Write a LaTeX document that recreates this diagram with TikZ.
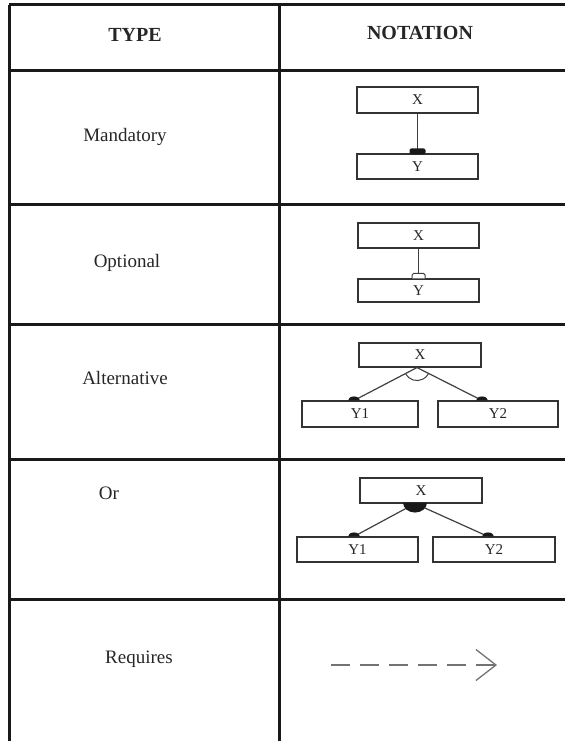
\documentclass[tikz,border=0pt]{standalone}
\usepackage{fontspec}
\setmainfont{Liberation Serif}
\usetikzlibrary{arrows.meta,calc}
\tikzset{
  grid/.style={line width=3pt, draw=black!90},
  head/.style={font=\fontsize{20}{22}\selectfont\bfseries, text=black!85},
  typelbl/.style={font=\fontsize{19}{21}\selectfont, text=black!85},
  fbox/.style={draw=black!80, line width=1.1pt, rectangle, inner sep=0pt,
    font=\fontsize{15}{17}\selectfont, text=black!85},
  link/.style={draw=black!75, line width=1.2pt},
  blob/.style={fill=black!90},
}
\begin{document}
\begin{tikzpicture}[x=1pt,y=1pt]
\useasboundingbox (0,0) rectangle (565,-741);
% table grid
\coordinate (tl) at (9,-5);
\coordinate (tm) at (279,-5);
\coordinate (bl) at (9,-741);
\coordinate (bm) at (279,-741);
\draw[grid] (tl) -- (bl);
\draw[grid] (tm) -- (bm);
\foreach \yy in {5,71,204,324,459,599}{
  \draw[grid] (9,-\yy) -- (565,-\yy);
}
% headers
\node[head] (hType) at (135,-35) {TYPE};
\node[head] (hNot) at (420,-33) {NOTATION};
% type labels
\node[typelbl] (tMand) at (125,-137) {Mandatory};
\node[typelbl] (tOpt) at (127,-263) {Optional};
\node[typelbl] (tAlt) at (125,-378) {Alternative};
\node[typelbl] (tOr) at (109,-493) {Or};
\node[typelbl] (tReq) at (139,-659) {Requires};
% Mandatory
\node[fbox, minimum width=121pt, minimum height=26pt] (mX) at (417.5,-100) {X};
\node[fbox, minimum width=121pt, minimum height=25pt] (mY) at (417.5,-166.5) {Y};
\draw[link] (mX.south) -- (mY.north);
\fill[blob, rounded corners=2pt] ($(mY.north)+(-8,-1)$) rectangle ($(mY.north)+(8,5)$);
% Optional
\node[fbox, minimum width=121pt, minimum height=25pt] (oX) at (418.5,-235.5) {X};
\node[fbox, minimum width=121pt, minimum height=23pt] (oY) at (418.5,-290.5) {Y};
\draw[link] (oX.south) -- (oY.north);
\draw[fill=white, draw=black!75, line width=1pt, rounded corners=1.5pt]
  ($(oY.north)+(-6.5,0)$) -- ($(oY.north)+(-6.5,5)$) -- ($(oY.north)+(6.5,5)$) -- ($(oY.north)+(6.5,0)$);
% Alternative
\node[fbox, minimum width=122pt, minimum height=24pt] (aX) at (420,-355) {X};
\node[fbox, minimum width=116pt, minimum height=26pt] (aY1) at (360,-414) {Y1};
\node[fbox, minimum width=120pt, minimum height=26pt] (aY2) at (498,-414) {Y2};
\coordinate (aS) at ($(aX.south)+(-3,0)$);
\coordinate (aE1) at ($(aY1.north)+(-6,0)$);
\coordinate (aE2) at ($(aY2.north)+(-16,0)$);
\draw[link] (aS) -- (aE1);
\draw[link] (aS) -- (aE2);
\draw[draw=black!75, line width=1pt] ($(aS)+(208:13)$) arc[start angle=208, end angle=332, radius=13];
\fill[blob] ($(aE1)+(-6,0)$) arc[start angle=180, end angle=0, x radius=6, y radius=4] -- cycle;
\fill[blob] ($(aE2)+(-6,0)$) arc[start angle=180, end angle=0, x radius=6, y radius=4] -- cycle;
% Or
\node[fbox, minimum width=122pt, minimum height=25pt] (rX) at (421,-490.5) {X};
\node[fbox, minimum width=121pt, minimum height=25pt] (rY1) at (357.5,-549.5) {Y1};
\node[fbox, minimum width=122pt, minimum height=25pt] (rY2) at (494,-549.5) {Y2};
\coordinate (rS) at ($(rX.south)+(-6,0)$);
\coordinate (rE1) at ($(rY1.north)+(-3.5,0)$);
\coordinate (rE2) at ($(rY2.north)+(-6,0)$);
\draw[link] (rS) -- (rE1);
\draw[link] (rS) -- (rE2);
\fill[blob] ($(rS)+(-12,1)$) arc[start angle=180, end angle=360, x radius=12, y radius=10] -- cycle;
\fill[blob] ($(rE1)+(-6,0)$) arc[start angle=180, end angle=0, x radius=6, y radius=4] -- cycle;
\fill[blob] ($(rE2)+(-6,0)$) arc[start angle=180, end angle=0, x radius=6, y radius=4] -- cycle;
% Requires
\coordinate (qA) at (331,-665);
\coordinate (qB) at (497,-665);
\draw[draw=black!55, line width=1.3pt, dash pattern=on 19pt off 10pt,
  -{Straight Barb[length=20pt,width=31pt,line width=1.3pt]}] (qA) -- (qB);
\end{tikzpicture}
\end{document}
